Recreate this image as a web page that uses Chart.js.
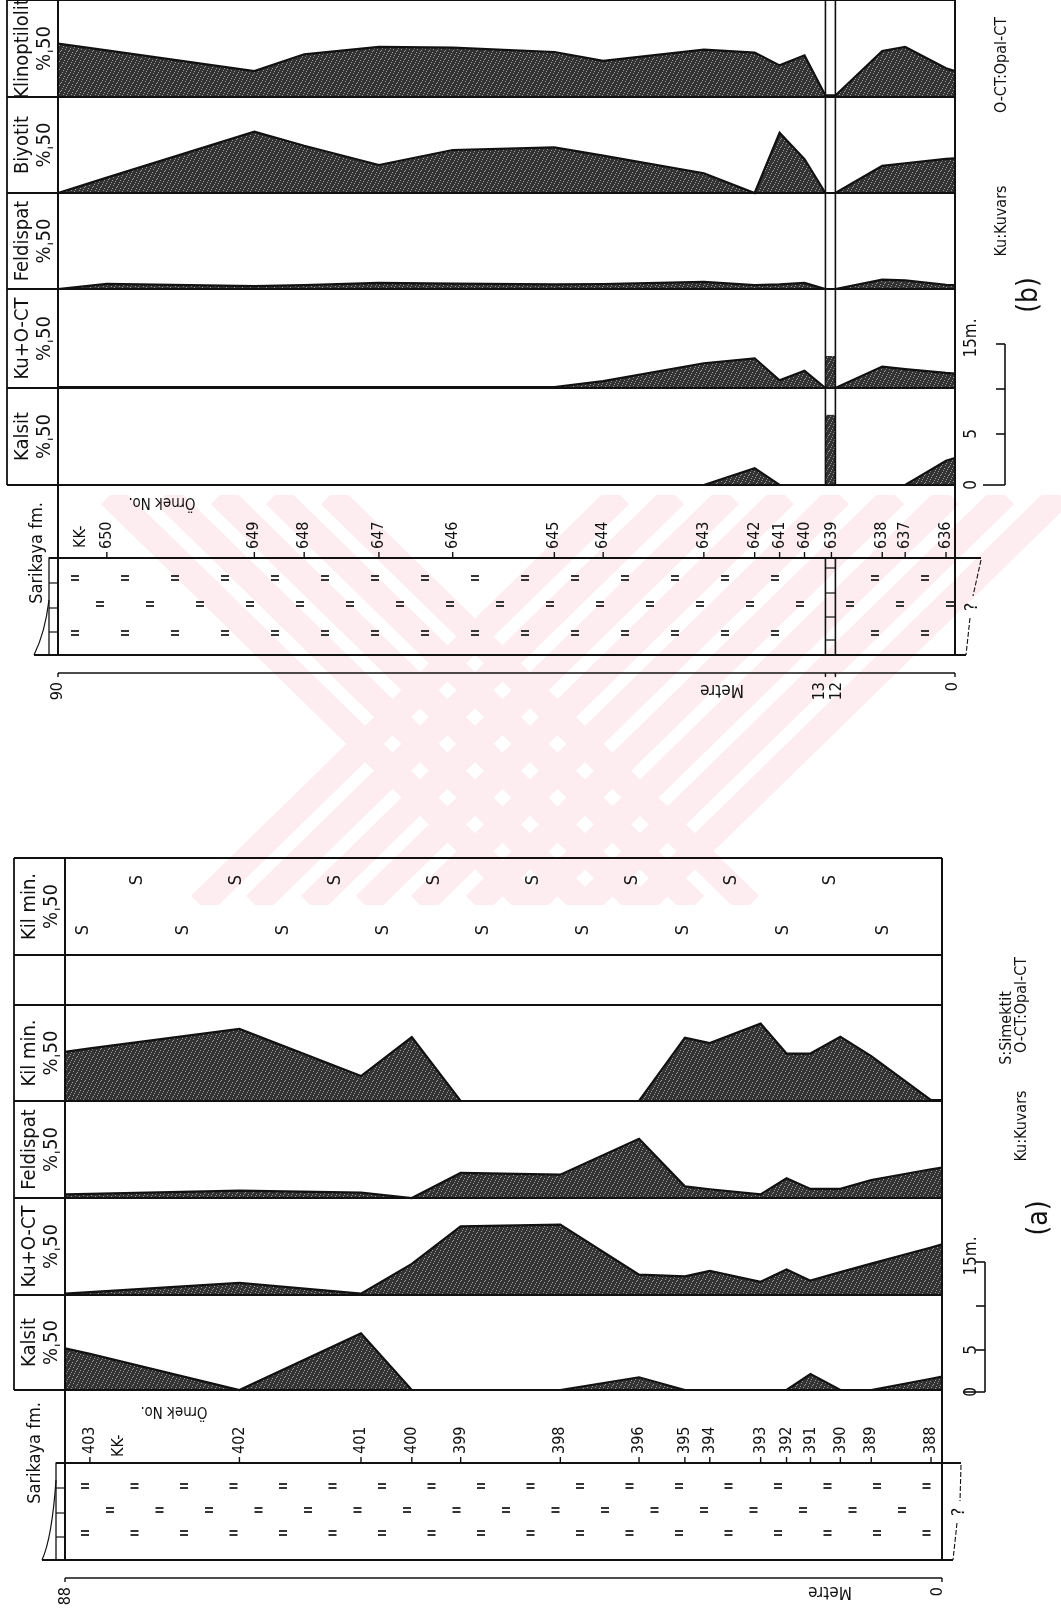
<!DOCTYPE html>
<html>
<head>
<meta charset="utf-8">
<script src="https://cdn.jsdelivr.net/npm/chart.js@4.4.1/dist/chart.umd.min.js"></script>
<style>
html, body { margin: 0; padding: 0; background: #fff; }
body { position: relative; width: 1061px; height: 1622px; overflow: hidden; }
canvas { position: absolute; left: 0; }
</style>
</head>
<body>
<canvas id="bg" width="1061" height="1622" style="top:0"></canvas>
<canvas id="panelB" width="1061" height="830" style="top:0"></canvas>
<canvas id="panelA" width="1061" height="792" style="top:830px"></canvas>
<script>
// (b) KK-636 ... KK-650, derinlik (m) ve yüzde değerleri
const depthB = [90, 85.1, 70.3, 65.3, 57.8, 50.4, 40.2, 35.3, 25.2, 20.1, 17.6, 15.1, 13, 12, 7.3, 5.0, 0.9, 0];
const klinB = [27.5, 24, 13.4, 22, 25.8, 25.5, 23.2, 18.6, 24.4, 22.9, 16.3, 21.5, 0.8, 0.8, 23.7, 25.8, 14.8, 13.4];
const biyB  = [0, 8, 31.9, 24.6, 14.6, 22.4, 23.8, 19.5, 10.3, 0, 31.4, 17.6, 0, 0, 14.1, 15.5, 17.8, 18.1];
const feldB = [0, 2.7, 1.5, 2, 3.2, 2.8, 2.4, 2.6, 3.7, 2, 2.4, 3.2, 0, 0, 4.9, 4.5, 2.2, 2];
const kuB   = [0.5, 0.5, 0.5, 0.5, 0.5, 0.5, 0.5, 3.5, 12.5, 15, 3.9, 8.7, 0, 0, 10.8, 9.5, 7.6, 7.3];
const kalB  = [0, 0, 0, 0, 0, 0, 0, 0, 0, 8.7, 0, 0, 0, 0, 0, 0, 12.5, 13.9];
// 639 seviyesi (12-13 m arasi bant)
const bandB = [13, 12];
const bandDepthB = [12.5];
const bandKuB = [16];
const bandKalB = [36];
const samplesB = ['650', '649', '648', '647', '646', '645', '644', '643', '642', '641', '640', '639', '638', '637', '636'];
const sampleDepthB = [85.1, 70.3, 65.3, 57.8, 50.4, 40.2, 35.3, 25.2, 20.1, 17.6, 15.1, 12.4, 7.3, 5.0, 0.9];
const depthTicksB = [90, 13, 12, 0];

// (a) KK-388 ... KK-403
const depthA = [88, 85.5, 70.5, 58.3, 53.2, 48.3, 38.3, 30.4, 25.8, 23.3, 18.2, 15.6, 13.2, 10.2, 7.1, 1.1, 0];
const kilA  = [25.6, 27.4, 37.5, 13, 33.3, 0, 0, 0, 33, 30.2, 40.3, 24.7, 24.7, 33.5, 23.4, 0.5, 0.5];
const feldA = [1.9, 2.1, 3.8, 2.8, 0, 12.9, 12, 30.5, 6, 4.5, 1.9, 10.2, 4.7, 4.7, 9.3, 14.8, 15.7];
const kuA   = [0.7, 1.5, 6.2, 0.7, 16, 35.4, 36.3, 10.5, 9.6, 12.4, 6.8, 13.2, 7.4, 11.8, 16.2, 24.5, 26.1];
const kalA  = [21.9, 19, 0, 29.8, 0, 0, 0, 6.7, 0, 0, 0, 0, 8.4, 0, 0, 5.9, 7];
const samplesA = ['403', '402', '401', '400', '399', '398', '396', '395', '394', '393', '392', '391', '390', '389', '388'];
const sampleDepthA = [85.5, 70.5, 58.3, 53.2, 48.3, 38.3, 30.4, 25.8, 23.3, 18.2, 15.6, 13.2, 10.2, 7.1, 1.1];
const depthTicksA = [88, 0];

const scaleLabels = ['0', '5', '', '15m.'];

const FONT = "'DejaVu Sans Condensed', 'Liberation Sans Narrow', 'DejaVu Sans', sans-serif";
const INK = '#111111';

// noktali koyu dolgu
function stipple() {
    const c = document.createElement('canvas');
    c.width = 8; c.height = 8;
    const g = c.getContext('2d');
    g.fillStyle = '#333333';
    g.fillRect(0, 0, 8, 8);
    g.fillStyle = '#999999';
    [[1, 1], [5, 2], [3, 5], [7, 6], [0, 4], [6, 0], [2, 7], [4, 3]].forEach(([x, y]) => g.fillRect(x, y, 1, 1));
    return g.createPattern(c, 'repeat');
}
const STIPPLE = stipple();

function txt(ctx, s, x, y, size, align, rot) {
    ctx.save();
    ctx.translate(x, y);
    ctx.rotate(rot === undefined ? -Math.PI / 2 : rot);
    ctx.font = size + 'px ' + FONT;
    ctx.fillStyle = INK;
    ctx.textAlign = align || 'center';
    ctx.textBaseline = 'middle';
    ctx.fillText(s, 0, 0);
    ctx.restore();
}

function line(ctx, x1, y1, x2, y2, w) {
    ctx.beginPath();
    ctx.lineWidth = w || 1.6;
    ctx.strokeStyle = INK;
    ctx.moveTo(x1, y1);
    ctx.lineTo(x2, y2);
    ctx.stroke();
}

function lineSet(label, depth, vals, axis) {
    return {
        type: 'line', label, yAxisID: axis,
        data: depth.map((d, i) => ({ x: d, y: vals[i] })),
        borderColor: INK, borderWidth: 2.2, backgroundColor: STIPPLE,
        fill: 'origin', pointRadius: 0, tension: 0, clip: false
    };
}

function bandSet(label, depth, vals, axis) {
    return {
        type: 'bar', label, yAxisID: axis, grouped: false,
        data: depth.map((d, i) => ({ x: d, y: vals[i] })),
        backgroundColor: STIPPLE, borderWidth: 0, barThickness: 10
    };
}

function colAxis(title, weight) {
    return {
        type: 'linear', position: 'left', stack: 'cols', stackWeight: weight,
        min: 0, max: 50,
        ticks: { display: false },
        grid: { display: false, drawTicks: false },
        border: { display: true, color: INK, width: 2 },
        title: {
            display: !!title, text: title ? [title, '%\u02CC50'] : '', color: INK,
            padding: { top: 5, bottom: 2 },
            font: { family: FONT, size: 20, lineHeight: '22px' }
        }
    };
}

// cizelge disindaki cizimler: litoloji, ornek no, metre ekseni, olcek
function decor(p) {
    return {
        id: 'decor',
        afterDatasetsDraw(chart) {
            const ctx = chart.ctx, a = chart.chartArea, xs = chart.scales.x;
            const X = d => xs.getPixelForValue(d);
            const Y = v => v - p.off;
            const boxL = a.left - 51;
            const lithTop = a.bottom + 73, lithBot = lithTop + 97, axisY = lithBot + 18;
            ctx.save();

            // sutun cercevesi
            line(ctx, boxL, a.top, boxL, a.bottom, 1.8);
            p.cols.forEach(id => {
                const s = chart.scales[id];
                line(ctx, boxL, s.top, a.right, s.top, 1.8);
                line(ctx, boxL, s.bottom, a.right, s.bottom, 1.8);
            });
            line(ctx, a.left, a.top, a.left, lithBot, 2);
            line(ctx, a.right, a.top, a.right, lithBot, 2);

            // simektit isaretleri
            if (p.sCol) {
                const s = chart.scales[p.sCol];
                for (let x = 137; x < 900; x += 99) txt(ctx, 'S', x, s.top + 22, 18);
                for (let x = 83; x < 900; x += 100) txt(ctx, 'S', x, s.top + 72, 18);
            }

            // litoloji kutusu
            line(ctx, p.strip.x, lithTop, a.right + p.ext[0], lithTop, 2);
            line(ctx, p.strip.wedgeX, lithBot, a.right + p.ext[1], lithBot, 2);
            ctx.lineWidth = 1.3;
            ctx.strokeStyle = INK;
            ctx.strokeRect(p.strip.x, lithTop, a.left - p.strip.x, lithBot - lithTop);
            [25, 50, 74].forEach(dy => line(ctx, p.strip.x, lithTop + dy, a.left, lithTop + dy, 1.2));
            ctx.beginPath();
            ctx.moveTo(p.strip.x, lithTop + p.strip.wedgeTop);
            ctx.quadraticCurveTo(p.strip.x - 4, lithTop + 75, p.strip.wedgeX, lithBot);
            ctx.lineWidth = 1.2;
            ctx.stroke();

            const inBand = x => p.band && x > X(p.band[0]) - 7 && x < X(p.band[1]) + 7;
            p.eqRows.forEach((dy, r) => {
                for (let x = p.eqStart[r]; x < a.right - 4; x += p.eqStep) {
                    if (inBand(x)) continue;
                    line(ctx, x - 4, lithTop + dy - 2, x + 4, lithTop + dy - 2, 1.7);
                    line(ctx, x - 4, lithTop + dy + 2, x + 4, lithTop + dy + 2, 1.7);
                }
            });

            if (p.band) {
                const b0 = X(p.band[0]), b1 = X(p.band[1]);
                [b0, b1].forEach(bx => {
                    line(ctx, bx, a.top, bx, a.bottom, 1.6);
                    line(ctx, bx, lithTop, bx, lithBot, 1.6);
                });
                [10, 35, 59, 82].forEach(dy => line(ctx, b0, lithTop + dy, b1, lithTop + dy, 1.2));
            }

            // soru isareti
            ctx.save();
            ctx.setLineDash([5, 2]);
            line(ctx, a.right + p.ext[0], lithTop + 2, a.right + p.ext[1] + 7, lithTop + 38, 1.1);
            line(ctx, a.right + p.ext[1] + 4, lithTop + 60, a.right + p.ext[1], lithBot, 1.1);
            ctx.restore();
            txt(ctx, '?', a.right + p.ext[1] + 6, lithTop + 49, 18);

            // ornek numaralari
            p.samples.forEach((s, i) => {
                const x = X(p.sampleDepth[i]);
                line(ctx, x, lithTop, x, lithTop - 6, 1.4);
                txt(ctx, s, x, lithTop - 9, 16, 'left');
            });
            txt(ctx, 'KK-', p.kk[0], Y(p.kk[1]), 16, 'left');
            txt(ctx, 'Örnek No.', p.ornek[0], Y(p.ornek[1]), 15, 'center', Math.PI);
            txt(ctx, 'Sarikaya fm.', p.fm[0], Y(p.fm[1]), 18);

            // metre ekseni
            line(ctx, a.left, axisY, a.right, axisY, 1.4);
            p.depthTicks.forEach((d, i) => {
                const x = X(d);
                line(ctx, x, axisY, x, axisY + 4, 1.4);
                txt(ctx, String(d), x + p.depthDx[i], axisY + 9, 16, 'right');
            });
            txt(ctx, 'Metre', p.metre[0], Y(p.metre[1]), 17, 'center', Math.PI);

            // olcek
            const sc = p.scale, ys = sc.ys.map(Y);
            line(ctx, sc.x, ys[3], sc.x, ys[0], 1.6);
            ys.forEach((y, i) => line(ctx, sc.x - (i === 0 ? 22 : 9), y, sc.x, y, 1.6));
            scaleLabels.forEach((s, i) => { if (s) txt(ctx, s, sc.lx, ys[i] - (i === 3 ? 6 : 0), 17); });

            p.legend.forEach(([s, x, y, size]) => txt(ctx, s, x, Y(y), size));
            ctx.restore();
        }
    };
}

const baseOptions = (padding, maxDepth, scales) => ({
    responsive: false,
    animation: false,
    events: [],
    layout: { padding },
    plugins: { legend: { display: false }, tooltip: { enabled: false } },
    scales: Object.assign({
        x: { type: 'linear', display: false, min: 0, max: maxDepth, reverse: true, offset: false }
    }, scales)
});

// filigran
const bg = document.getElementById('bg').getContext('2d');
bg.save();
bg.beginPath();
bg.rect(0, 495, 1061, 410);
bg.clip();
bg.strokeStyle = '#fdedf0';
bg.lineWidth = 26;
for (let x0 = 110; x0 <= 330; x0 += 55) {
    bg.beginPath(); bg.moveTo(x0, 495); bg.lineTo(x0 + 420, 905); bg.stroke();
}
for (let x0 = 620; x0 <= 1060; x0 += 55) {
    bg.beginPath(); bg.moveTo(x0, 495); bg.lineTo(x0 - 420, 905); bg.stroke();
}
bg.restore();

// yigili eksenler: son tanimlanan en ustte cizilir, bu yuzden alttan uste sirali
new Chart(document.getElementById('panelB'), {
    type: 'line',
    data: {
        datasets: [
            lineSet('Klinoptilolit', depthB, klinB, 'klin'),
            lineSet('Biyotit', depthB, biyB, 'biy'),
            lineSet('Feldispat', depthB, feldB, 'feld'),
            lineSet('Ku+O-CT', depthB, kuB, 'ku'),
            lineSet('Kalsit', depthB, kalB, 'kal'),
            bandSet('Ku+O-CT 639', bandDepthB, bandKuB, 'ku'),
            bandSet('Kalsit 639', bandDepthB, bandKalB, 'kal')
        ]
    },
    options: baseOptions({ left: 7, right: 106, top: 0, bottom: 345 }, 90, {
        kal: colAxis('Kalsit', 97),
        ku: colAxis('Ku+O-CT', 99),
        feld: colAxis('Feldispat', 96),
        biy: colAxis('Biyotit', 96),
        klin: colAxis('Klinoptilolit', 97)
    }),
    plugins: [decor({
        off: 0,
        cols: ['klin', 'biy', 'feld', 'ku', 'kal'],
        samples: samplesB, sampleDepth: sampleDepthB, band: bandB,
        depthTicks: depthTicksB, depthDx: [0, -6, 1, -2],
        strip: { x: 49, wedgeX: 34, wedgeTop: 42 },
        ext: [26, 11],
        eqRows: [20, 46, 75], eqStart: [75, 100, 75], eqStep: 50,
        kk: [81, 548], ornek: [162, 502], fm: [37, 553], metre: [722, 689],
        scale: { x: 1005, lx: 972, ys: [485, 434, 389, 344] },
        legend: [['Ku:Kuvars', 1002, 221, 16], ['O-CT:Opal-CT', 1002, 65, 16], ['(b)', 1030, 295, 28]]
    })]
});

new Chart(document.getElementById('panelA'), {
    type: 'line',
    data: {
        datasets: [
            lineSet('Kil min.', depthA, kilA, 'kil'),
            lineSet('Feldispat', depthA, feldA, 'feld'),
            lineSet('Ku+O-CT', depthA, kuA, 'ku'),
            lineSet('Kalsit', depthA, kalA, 'kal')
        ]
    },
    options: baseOptions({ left: 14, right: 119, top: 28, bottom: 232 }, 88, {
        kal: colAxis('Kalsit', 95),
        ku: colAxis('Ku+O-CT', 97),
        feld: colAxis('Feldispat', 97),
        kil: colAxis('Kil min.', 96),
        blank: colAxis(null, 50),
        kilS: colAxis('Kil min.', 97)
    }),
    plugins: [decor({
        off: 830,
        cols: ['kilS', 'blank', 'kil', 'feld', 'ku', 'kal'],
        sCol: 'kilS',
        samples: samplesA, sampleDepth: sampleDepthA, band: null,
        depthTicks: depthTicksA, depthDx: [1, -4],
        strip: { x: 56, wedgeX: 42, wedgeTop: 17 },
        ext: [19, 11],
        eqRows: [23, 47, 70], eqStart: [85, 110, 85], eqStep: 49.5,
        kk: [119, 1457], ornek: [174, 1411], fm: [35, 1453], metre: [830, 1591],
        scale: { x: 985, lx: 972, ys: [1392, 1350, 1306, 1262] },
        legend: [['S:Simektit', 1007, 1028, 16], ['Ku:Kuvars', 1022, 1126, 16], ['O-CT:Opal-CT', 1022, 1005, 16], ['(a)', 1040, 1218, 28]]
    })]
});
</script>
</body>
</html>
